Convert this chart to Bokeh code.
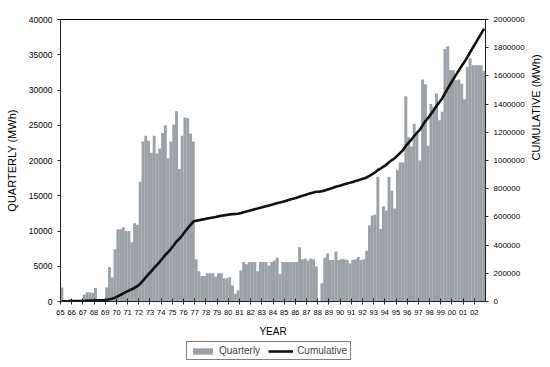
import math
import numpy as np
from bokeh.plotting import figure
from bokeh.layouts import column
from bokeh.models import (Range1d, LinearAxis, FixedTicker, Legend, LegendItem,
                          NumeralTickFormatter)
from bokeh.embed import file_html
from bokeh.resources import INLINE

# ---- data ----
years = list(range(1965, 2003))
year_labels = ["65", "66", "67", "68", "69", "70", "71", "72", "73", "74", "75", "76",
               "77", "78", "79", "80", "81", "82", "83", "84", "85", "86", "87", "88",
               "89", "90", "91", "92", "93", "94", "95", "96", "97", "98", "99", "00",
               "01", "02"]

# quarterly generation (MWh), one row per year: Q1..Q4
quarterly_by_year = [
    [2000, 100, 0, 300],         # 1965
    [200, 0, 0, 0],              # 1966
    [1000, 1300, 1300, 1200],    # 1967
    [1900, 0, 0, 0],             # 1968
    [2000, 4900, 3400, 7400],    # 1969
    [10200, 10300, 10500, 10000],  # 1970
    [10000, 8400, 11100, 10900],   # 1971
    [17000, 22700, 23500, 22800],  # 1972
    [21100, 23500, 21000, 21700],  # 1973
    [23900, 25000, 20300, 22700],  # 1974
    [25100, 27000, 18800, 23500],  # 1975
    [26100, 26000, 23800, 22700],  # 1976
    [6000, 4300, 3600, 3600],      # 1977
    [4000, 4000, 4000, 3500],      # 1978
    [4000, 4000, 3300, 3300],      # 1979
    [3450, 2300, 1100, 1560],      # 1980
    [4400, 5600, 5300, 5600],      # 1981
    [5600, 5600, 4300, 5600],      # 1982
    [5600, 5600, 5100, 5600],      # 1983
    [5800, 6200, 3900, 5600],      # 1984
    [5600, 5600, 5600, 5600],      # 1985
    [5600, 7700, 6000, 6100],      # 1986
    [5800, 6100, 6000, 5000],      # 1987
    [0, 2600, 6200, 6800],         # 1988
    [5900, 5900, 7100, 5900],      # 1989
    [6000, 6000, 5900, 5400],      # 1990
    [5900, 6000, 6300, 5900],      # 1991
    [6000, 7200, 10800, 12200],    # 1992
    [12300, 17700, 10300, 13500],  # 1993
    [12900, 17700, 15700, 13200],  # 1994
    [18700, 19700, 19700, 29100],  # 1995
    [23300, 22000, 25200, 24000],  # 1996
    [20000, 31500, 30800, 22100],  # 1997
    [28000, 27600, 29500, 25700],  # 1998
    [26900, 35800, 36200, 32800],  # 1999
    [32800, 31400, 31500, 30900],  # 2000
    [28700, 33300, 34500, 33500],  # 2001
    [33500, 33500, 33500, 32700],  # 2002
]

left_ticks = list(range(0, 40001, 5000))
right_ticks = list(range(0, 2000001, 200000))

quarterly = [v for row in quarterly_by_year for v in row]
qx = [years[0] + (i + 0.5) / 4 for i in range(len(quarterly))]
cumulative = np.cumsum(quarterly).tolist()

FONT = "Liberation Sans"
BAR = "#9aa2a7"
LINE = "#111111"

p = figure(width=550, height=340, output_backend="svg", toolbar_location=None,
           x_range=Range1d(1965, 2003), y_range=Range1d(0, 40000),
           min_border_left=60, min_border_right=64, min_border_top=19,
           min_border_bottom=39)
p.extra_y_ranges = {"cum": Range1d(0, 2000000)}
p.grid.visible = False
p.outline_line_color = "black"
p.outline_line_width = 1
p.background_fill_color = "white"
p.border_fill_color = "white"

p.vbar(x=qx, top=quarterly, bottom=0, width=0.26, fill_color=BAR, line_color=None)
p.line(x=qx, y=cumulative, y_range_name="cum", line_color=LINE, line_width=2.6)

# x axis
xa = p.xaxis[0]
xa.ticker = FixedTicker(ticks=years)
xa.major_label_overrides = {y: l for y, l in zip(years, year_labels)}
xa.major_label_text_font = FONT
xa.major_label_text_font_size = "7.5px"
xa.major_label_standoff = 5
xa.major_tick_in = 3
xa.major_tick_out = 3
xa.minor_tick_line_color = None
xa.axis_label = "YEAR"
xa.axis_label_text_font = FONT
xa.axis_label_text_font_size = "10px"
xa.axis_label_text_font_style = "normal"
xa.axis_label_standoff = 8

# left axis
ya = p.yaxis[0]
ya.ticker = FixedTicker(ticks=left_ticks)
ya.formatter = NumeralTickFormatter(format="0")
ya.major_label_text_font = FONT
ya.major_label_text_font_size = "8.5px"
ya.major_tick_in = 0
ya.major_tick_out = 3
ya.minor_tick_line_color = None
ya.axis_label = "QUARTERLY (MWh)"
ya.axis_label_text_font = FONT
ya.axis_label_text_font_size = "11px"
ya.axis_label_text_font_style = "normal"
ya.axis_label_standoff = 8

# right axis
ra = LinearAxis(y_range_name="cum", ticker=FixedTicker(ticks=right_ticks),
                formatter=NumeralTickFormatter(format="0"))
ra.major_label_text_font = FONT
ra.major_label_text_font_size = "8px"
ra.major_tick_in = 0
ra.major_tick_out = 3
ra.minor_tick_line_color = None
ra.axis_label = "CUMULATIVE (MWh)"
ra.axis_label_text_font = FONT
ra.axis_label_text_font_size = "11px"
ra.axis_label_text_font_style = "normal"
ra.axis_label_standoff = 8
ra.axis_label_orientation = math.pi / 2
p.add_layout(ra, "right")

for ax in (xa, ya, ra):
    ax.axis_line_color = "#222222"
    ax.major_tick_line_color = "#222222"
    ax.major_label_text_color = "black"
    ax.axis_label_text_color = "black"

# legend strip below the chart (hidden proxy renderers carry the legend glyphs)
lg = figure(width=550, height=27, output_backend="svg", toolbar_location=None,
            x_range=Range1d(1965, 2003), y_range=Range1d(0, 40000),
            x_axis_type=None, y_axis_type=None, min_border=0)
lg.grid.visible = False
lg.outline_line_color = None
lg.background_fill_color = "white"
lg.border_fill_color = "white"
lb = lg.vbar(x=qx, top=quarterly, bottom=0, width=0.26, fill_color=BAR,
             line_color=None, visible=False)
ll = lg.line(x=qx, y=quarterly, line_color=LINE, line_width=2.6, visible=False)

legend = Legend(items=[LegendItem(label="Quarterly", renderers=[lb]),
                       LegendItem(label="Cumulative", renderers=[ll])],
                orientation="horizontal", location=(126, 7),
                border_line_color="black", border_line_width=1,
                background_fill_color="white", background_fill_alpha=1,
                label_text_font=FONT, label_text_font_size="10px",
                glyph_width=25, glyph_height=8, label_height=10,
                label_standoff=4, spacing=8, padding=3, margin=0,
                inactive_fill_alpha=0)
lg.add_layout(legend)

layout = column(p, lg, spacing=0)
open("out.html", "w").write(file_html(layout, INLINE))
